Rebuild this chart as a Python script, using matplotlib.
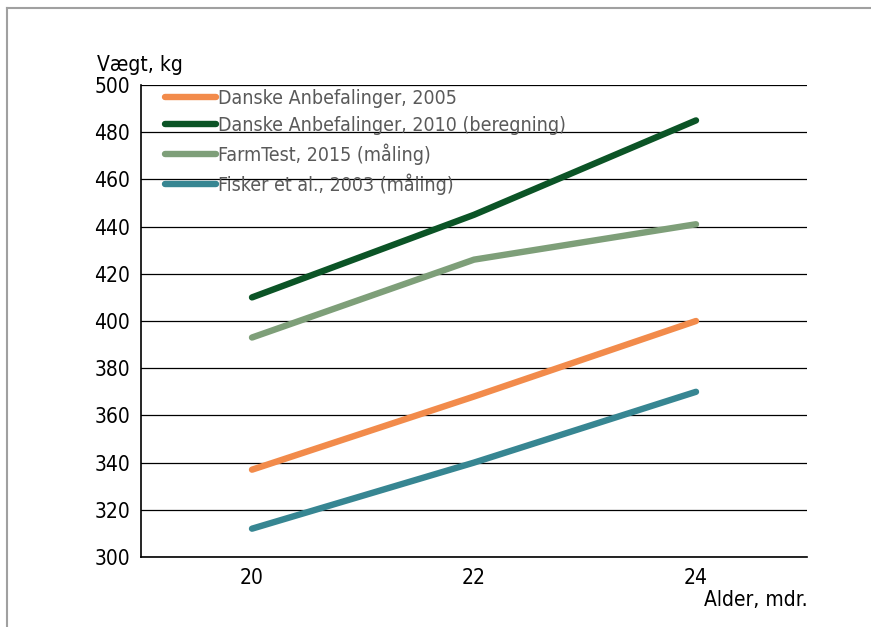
import matplotlib.pyplot as plt
from matplotlib.lines import Line2D

# Alder (mdr.) og vægt (kg) for hver kilde
alder = [20, 22, 24]
danske_2005 = [337, 368, 400]
danske_2010 = [410, 445, 485]
farmtest_2015 = [393, 426, 441]
fisker_2003 = [312, 340, 370]

labels = [
    "Danske Anbefalinger, 2005",
    "Danske Anbefalinger, 2010 (beregning)",
    "FarmTest, 2015 (måling)",
    "Fisker et al., 2003 (måling)",
]
colors = ["#f28b4b", "#0b5426", "#7e9f79", "#378692"]
series = [danske_2005, danske_2010, farmtest_2015, fisker_2003]

plt.rcParams["font.family"] = ["DejaVu Sans"]
plt.rcParams["font.stretch"] = "condensed"

fig = plt.figure(figsize=(8.71, 6.27), dpi=100)
ax = fig.add_axes([141 / 871, 70 / 627, 666 / 871, 472 / 627])

for vals, c, lab in zip(series, colors, labels):
    ax.plot(alder, vals, color=c, lw=4.6, solid_capstyle="round", label=lab, zorder=3)

ax.set_xlim(19, 25)
ax.set_ylim(300, 500)
ax.set_xticks([20, 22, 24])
ax.set_yticks(range(300, 501, 20))
ax.yaxis.grid(True, color="black", lw=0.9)
ax.set_axisbelow(True)
ax.tick_params(length=0, labelsize=15, pad=8)
for s in ["top", "right"]:
    ax.spines[s].set_visible(False)
for s in ["left", "bottom"]:
    ax.spines[s].set_color("black")
    ax.spines[s].set_linewidth(1.2)

handles = [Line2D([0], [0], color=c, lw=4.6, solid_capstyle="round") for c in colors]
leg = ax.legend(handles, labels, loc="upper left", bbox_to_anchor=(0.025, 1.008),
                frameon=False, fontsize=14, handlelength=2.6, handletextpad=0.12,
                labelspacing=0.42, borderaxespad=0)
for t in leg.get_texts():
    t.set_color("#5a5a5a")

fig.text(97 / 871, 1 - 65 / 627, "Vægt, kg", fontsize=15, va="center", ha="left")
fig.text(808 / 871, 1 - 600 / 627, "Alder, mdr.", fontsize=15, va="center", ha="right")

# grå ramme øverst og til venstre
fig.add_artist(Line2D([7 / 871, 1], [1 - 8 / 627, 1 - 8 / 627], color="#a0a0a0", lw=1.5,
                      transform=fig.transFigure))
fig.add_artist(Line2D([7 / 871, 7 / 871], [0, 1 - 8 / 627], color="#a0a0a0", lw=1.5,
                      transform=fig.transFigure))

fig.savefig("out.png", dpi=100)
